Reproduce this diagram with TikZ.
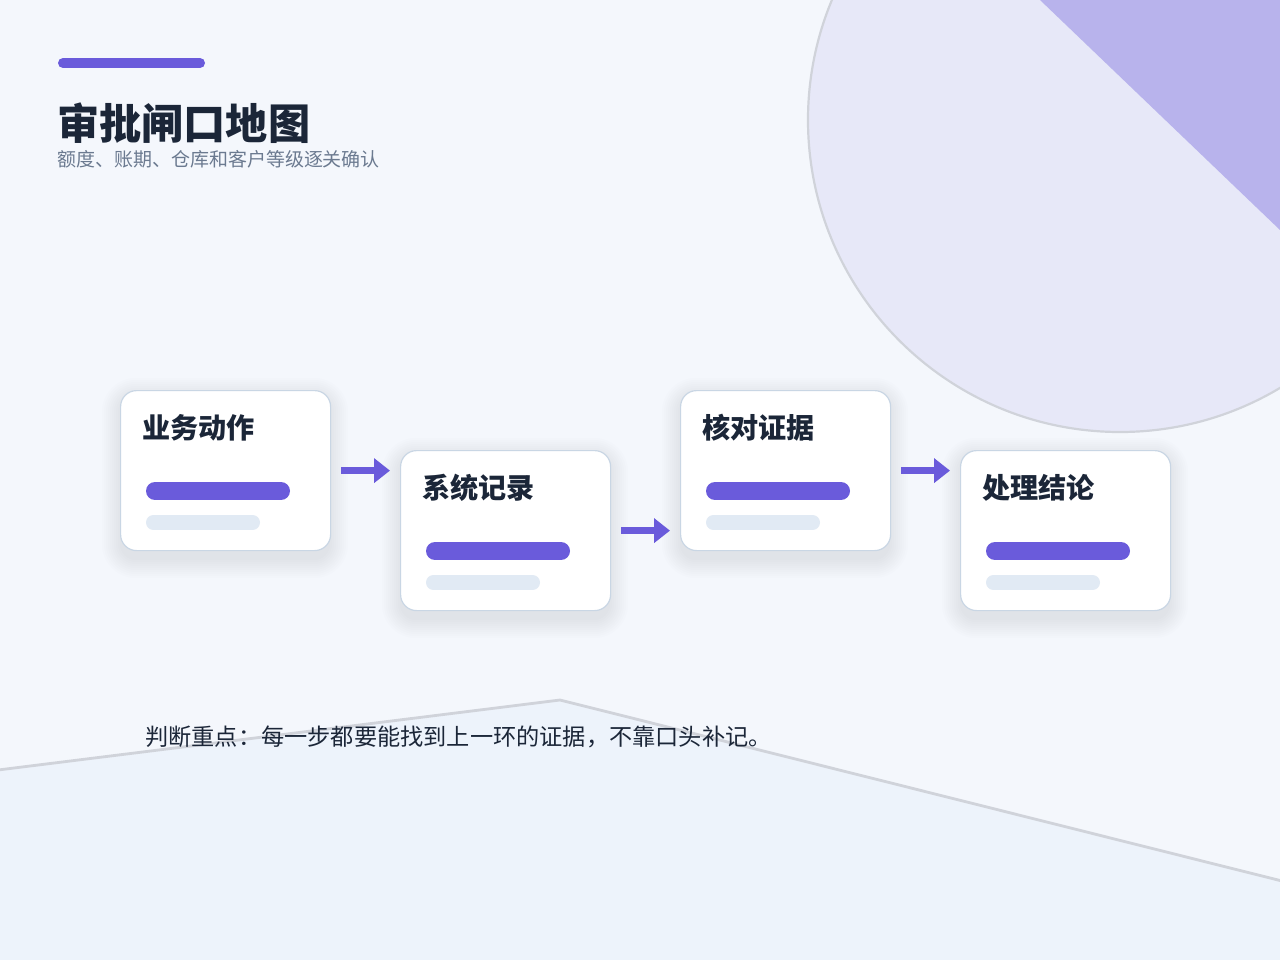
\documentclass[tikz,border=0pt]{standalone}
\usepackage{fontspec}
\setmainfont{Noto Sans CJK SC}
\usepackage{xcolor}
\usepackage{tikz}
\usetikzlibrary{arrows.meta,calc,positioning}
\definecolor{PageBg}{HTML}{F4F7FC}
\definecolor{GateViolet}{HTML}{6A5BDB}
\definecolor{SoftLilac}{HTML}{E7E8F8}
\definecolor{DeepLilac}{HTML}{B8B3EC}
\definecolor{FloorBlue}{HTML}{EDF3FB}
\definecolor{EdgeGray}{HTML}{D0D3DA}
\definecolor{CardLine}{HTML}{C9D6E4}
\definecolor{BarGray}{HTML}{E1EAF4}
\definecolor{ShadowTone}{HTML}{5A6B8C}
\definecolor{Ink}{HTML}{1B2638}
\definecolor{Muted}{HTML}{6B7A90}
\tikzset{
  card/.style={
    draw=CardLine,
    line width=0.3mm,
    rounded corners=4mm,
    fill=white,
    minimum width=52.5mm,
    minimum height=40mm,
    inner sep=0pt
  },
  cardshade/.style={fill=ShadowTone, opacity=0.01},
  cardtitle/.style={font=\fontsize{20}{24}\selectfont\bfseries, text=Ink, inner sep=0pt},
  barmain/.style={draw=GateViolet, line width=4.5mm, line cap=round},
  barsoft/.style={draw=BarGray, line width=3.75mm, line cap=round},
  flowarrow/.style={-{Triangle[length=4mm, width=6mm]}, draw=GateViolet, line width=1.75mm}
}

\begin{document}
\begin{tikzpicture}[x=0.25mm, y=-0.25mm]
  \useasboundingbox (0,0) rectangle (1280,960);
  \fill[PageBg] (0,0) rectangle (1280,960);

  % backdrop shapes
  \begin{scope}
    \clip (0,0) rectangle (1280,960);
    \fill[SoftLilac, draw=EdgeGray, line width=0.55mm] (1120,120) circle (312);
    \fill[DeepLilac] (1040,0) -- (1280,230) -- (1280,0) -- cycle;
    \fill[FloorBlue, draw=EdgeGray, line width=0.7mm]
      (-10,771) -- (560,700) -- (1290,883) -- (1290,970) -- (-10,970) -- cycle;
  \end{scope}

  % heading
  \draw[GateViolet, line width=2.5mm, line cap=round] (63,63) -- (200,63);
  \node[anchor=west, inner sep=0pt, text=Ink, font=\fontsize{30}{36}\selectfont\bfseries]
    (title) at (57,123) {审批闸口地图};
  \node[anchor=west, inner sep=0pt, text=Muted, font=\fontsize{13.5}{16}\selectfont]
    (subtitle) at (57,159) {额度、账期、仓库和客户等级逐关确认};

  % four gates
  \foreach \i/\x/\y/\txt in {1/120/390/业务动作, 2/400/450/系统记录,
                             3/680/390/核对证据, 4/960/450/处理结论} {
    \foreach \k in {0,...,9}
      \fill[cardshade, rounded corners={(4+0.5*\k)*1mm}]
        (\x-2*\k, \y+6-2*\k) rectangle (\x+210+2*\k, \y+170+2*\k);
    \node[card, anchor=north west] (c\i) at (\x,\y) {};
    \node[cardtitle, anchor=west] (t\i) at ($(c\i.north west)+(22,38)$) {\txt};
    \draw[barmain] ($(c\i.north west)+(35,101)$) -- ++(126,0);
    \draw[barsoft] ($(c\i.north west)+(33.5,132.5)$) -- ++(99,0);
  }

  \foreach \a/\b in {1/2, 2/3, 3/4}
    \draw[flowarrow] ([xshift=2.5mm]c\a.east) -- ([xshift=-2.5mm]c\a.east -| c\b.west);

  \node[anchor=west, inner sep=0pt, text=Ink, font=\fontsize{16.5}{20}\selectfont]
    (note) at (145,737) {判断重点：每一步都要能找到上一环的证据，不靠口头补记。};
\end{tikzpicture}
\end{document}
